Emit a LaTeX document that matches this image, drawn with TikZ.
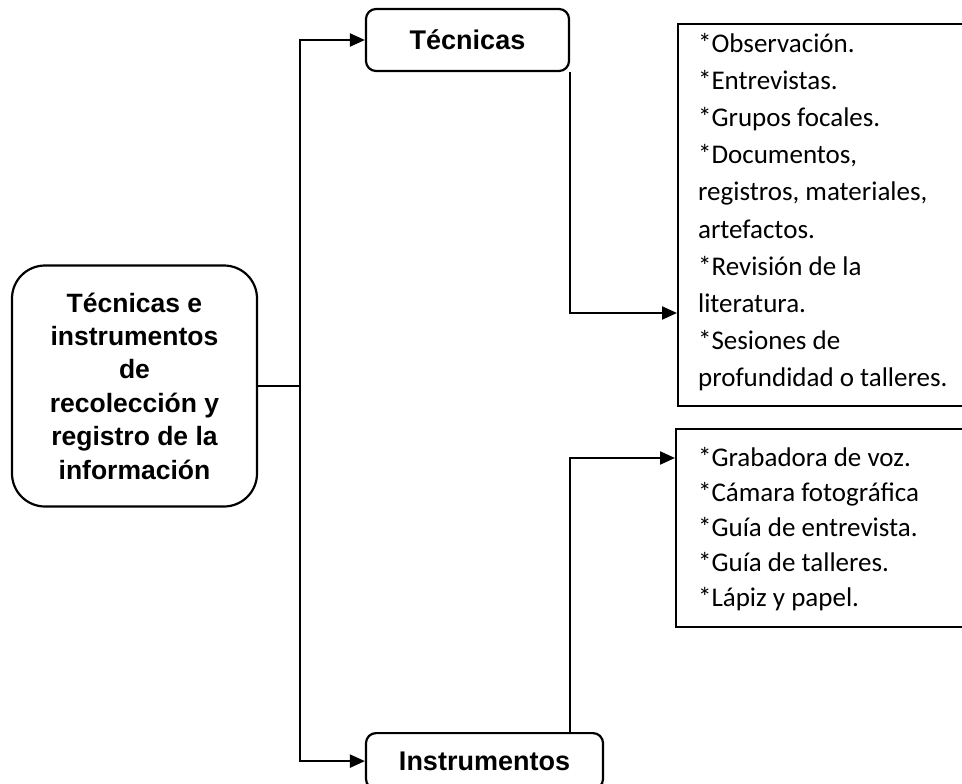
\documentclass[tikz,border=0pt]{standalone}
\usepackage{fontspec}
\setmainfont{Carlito}
\newfontfamily\arialfont{Liberation Sans}
\usetikzlibrary{arrows.meta}
\begin{document}
\begin{tikzpicture}[x=1pt,y=-1pt,line width=2.2pt,
  headbox/.style={draw,rounded corners=10pt,inner sep=0pt,
    font=\arialfont\bfseries\fontsize{27}{33}\selectfont,
    text height=19.5pt,text depth=0pt},
  listbox/.style={draw,sharp corners,inner sep=0pt,anchor=north west},
  listtext/.style={anchor=north west,align=left,inner sep=0pt},
  conn/.style={draw,line width=2.2pt},
  arr/.style={conn,-{Triangle[length=15pt,width=13pt]}}]
\useasboundingbox (0,0) rectangle (962,784);
% main box
\node[draw,rounded corners=33pt,minimum width=245pt,minimum height=241pt,
  inner sep=0pt,align=center,
  font=\arialfont\bfseries\fontsize{26.5}{33.4}\selectfont] (main) at (134.5,386)
  {Técnicas e\\instrumentos\\de\\recolección y\\registro de la\\información};
% heads
\node[headbox,minimum width=203pt,minimum height=62pt] (tec) at (467.5,40) {Técnicas};
\node[headbox,minimum width=237pt,minimum height=56pt,anchor=north] (ins) at (484.5,732) {Instrumentos};
% list boxes
\node[listbox,minimum width=330pt,minimum height=382pt] (tlist) at (677,23) {};
\node[listbox,minimum width=330pt,minimum height=198pt] (ilist) at (675,428) {};
\node[listtext,font=\fontsize{27}{37.2}\selectfont] (ttext) at (697,27)
  {\rule{0pt}{24pt}*Observación.\\{}*Entrevistas.\\{}*Grupos focales.\\{}*Documentos,\\registros, materiales,\\artefactos.\\{}*Revisión de la\\literatura.\\{}*Sesiones de\\profundidad o talleres.};
\node[listtext,font=\fontsize{27}{35.2}\selectfont] (itext) at (697,441)
  {\rule{0pt}{24pt}*Grabadora de voz.\\{}*Cámara fotográfica\\{}*Guía de entrevista.\\{}*Guía de talleres.\\{}*Lápiz y papel.};
% connectors
\draw[conn] (main.east) -- (300,386) coordinate (junc);
\draw[arr] (junc) |- (tec.west);
\draw[arr] (junc) |- (ins.west);
\draw[arr] (tec.south east) |- (tlist.west |- 0,313);
\draw[arr] (570,0 |- ins.north) |- (ilist.west |- 0,458);
\end{tikzpicture}
\end{document}
